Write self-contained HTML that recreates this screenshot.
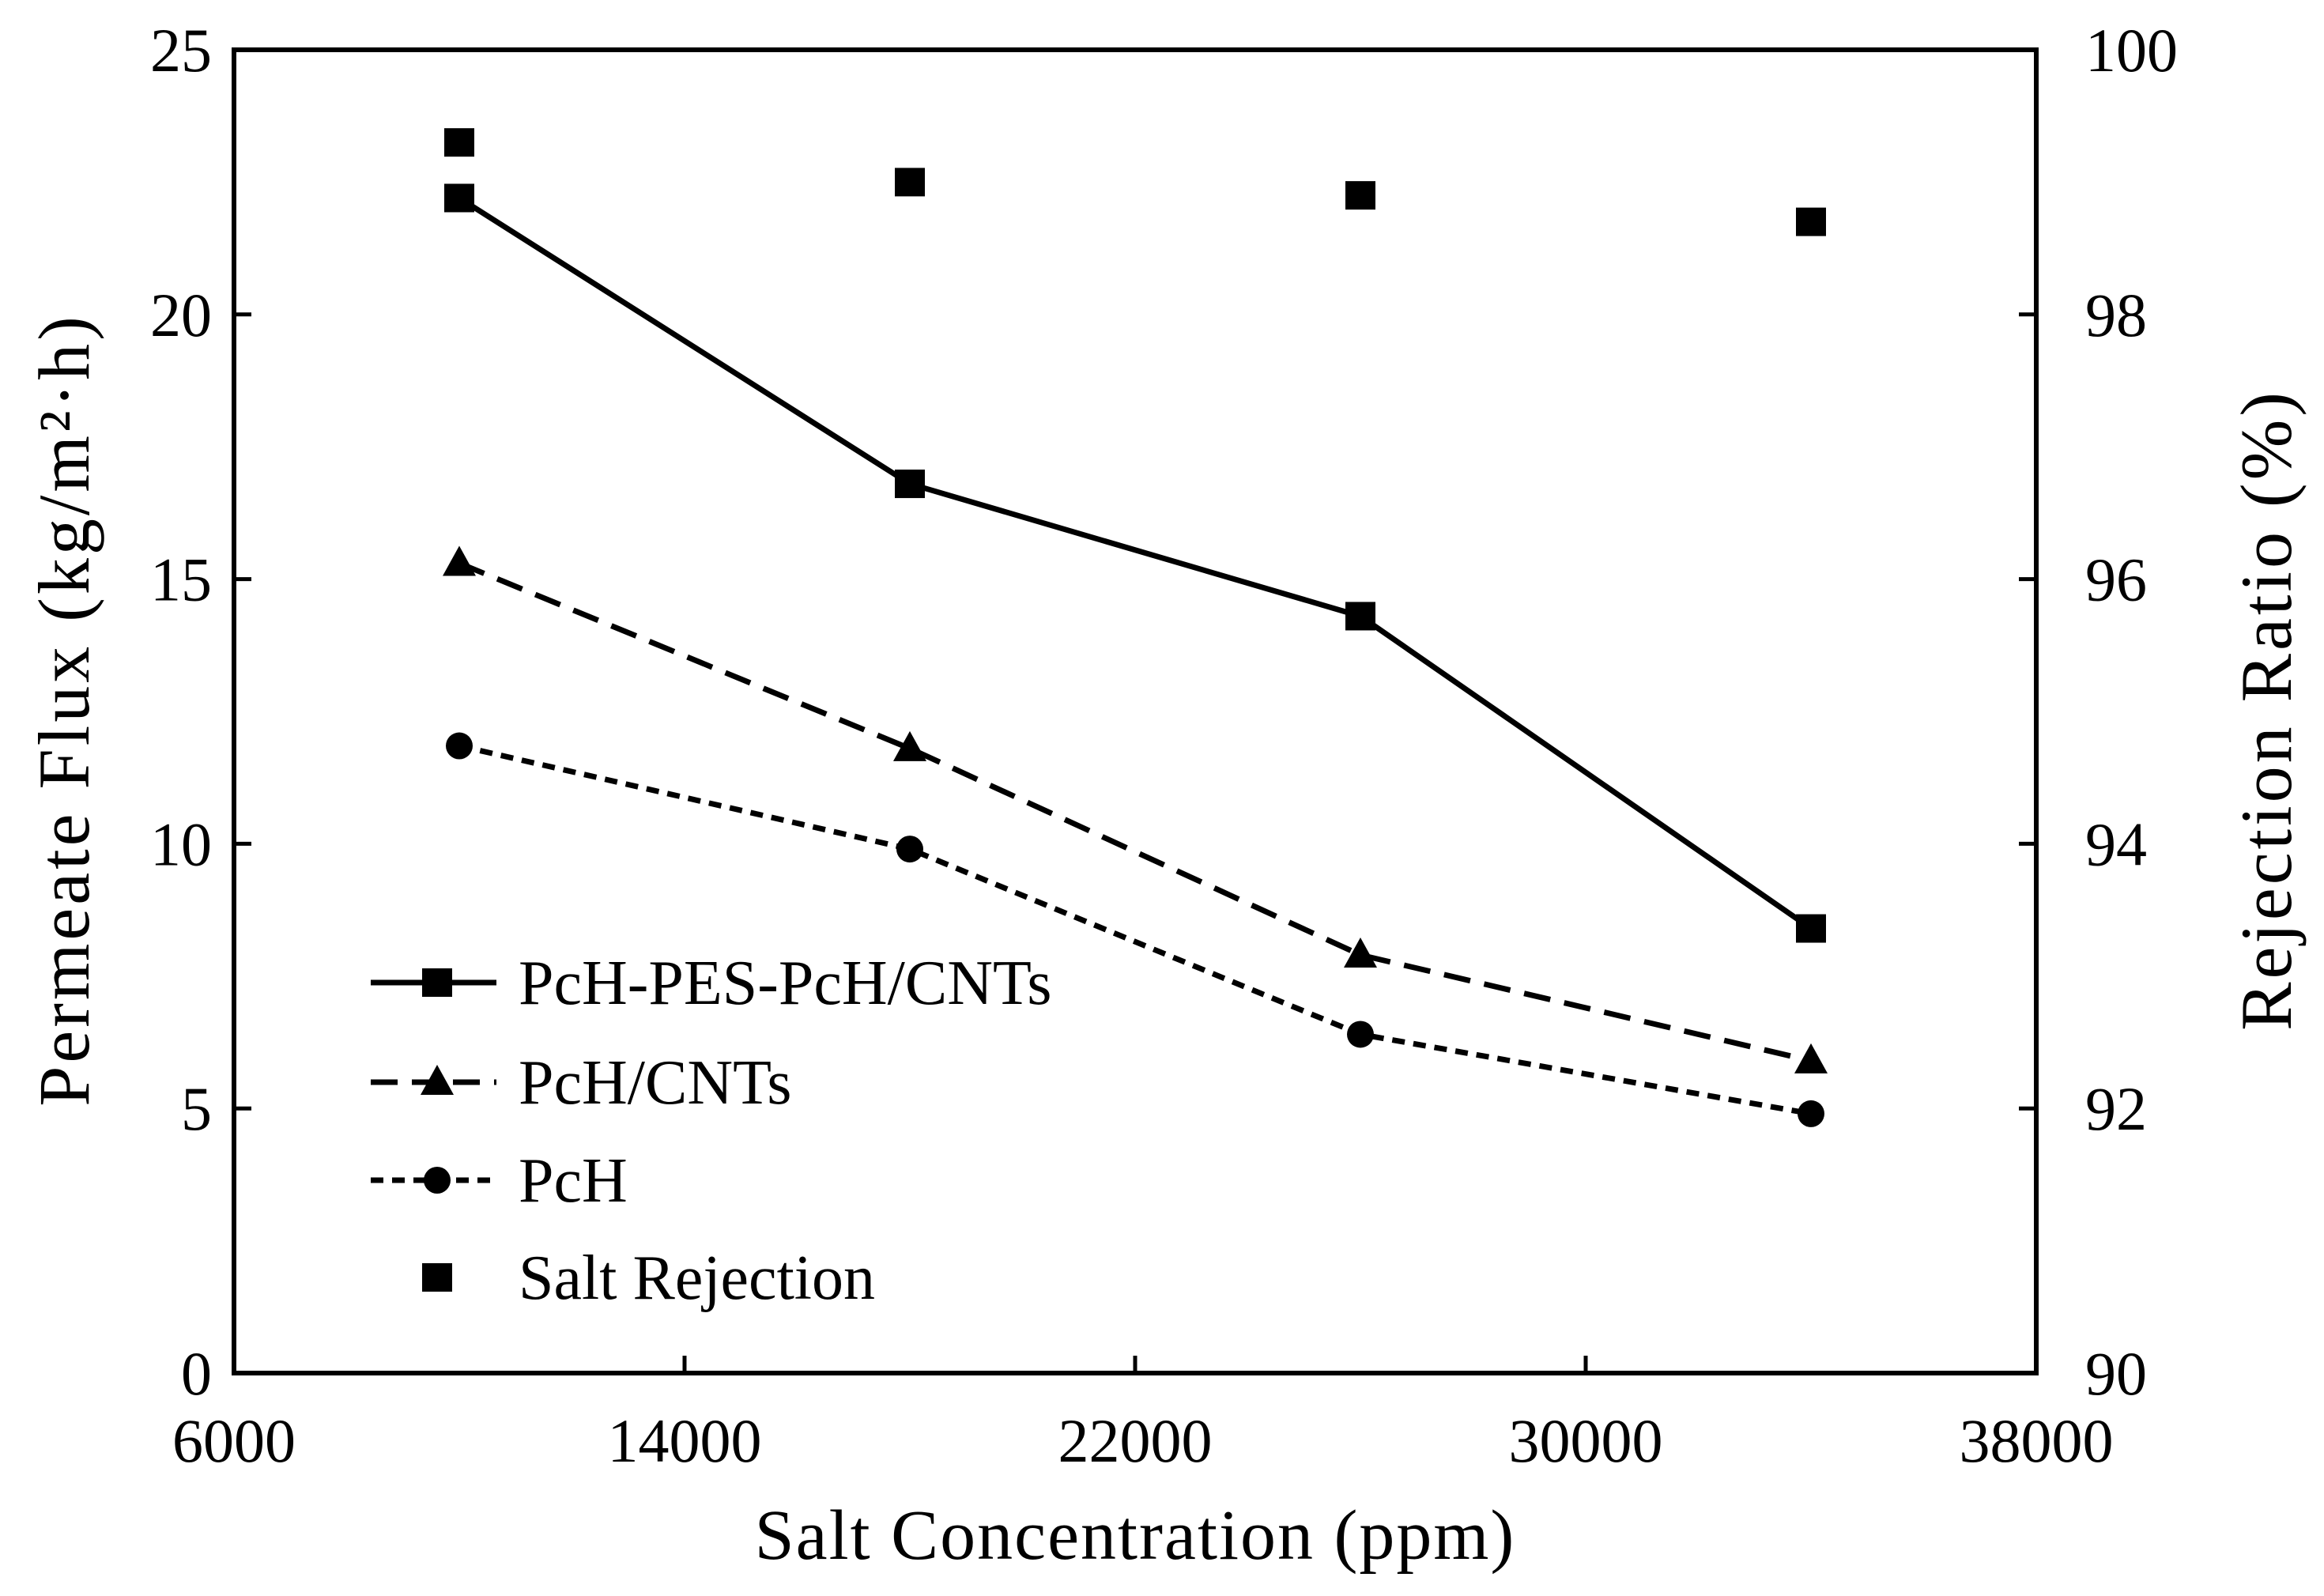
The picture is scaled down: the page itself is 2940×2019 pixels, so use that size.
<!DOCTYPE html>
<html><head><meta charset="utf-8"><style>
html,body{margin:0;padding:0;background:#fff;}
svg{display:block;font-family:"Liberation Serif",serif;}
</style></head><body>
<svg id="chart" width="2940" height="2019" viewBox="0 0 2940 2019">
</svg>
<script>
const xValues=[10000,18000,26000,34000];
const fluxPES=[22.2,16.8,14.3,8.4];
const fluxCNT=[15.3,11.8,7.9,5.9];
const fluxPcH=[11.85,9.9,6.4,4.9];
const rejection=[99.3,99.0,98.9,98.7];
const xTicks=[6000,14000,22000,30000,38000];
const yTicks=[0,5,10,15,20,25];
const y2Ticks=[90,92,94,96,98,100];

const L=296,R=2576,T=63,B=1737;
const NS="http://www.w3.org/2000/svg";
const svg=document.getElementById('chart');
const sx=v=>L+(v-6000)/32000*(R-L);
const sy=v=>B-v/25*(B-T);
const sy2=v=>B-(v-90)/10*(B-T);
function mk(tag,attrs,parent){const e=document.createElementNS(NS,tag);for(const k in attrs)e.setAttribute(k,attrs[k]);(parent||svg).appendChild(e);return e;}
function txt(s,attrs){const e=mk('text',attrs);e.textContent=s;return e;}

let frame=mk('rect',{x:L,y:T,width:R-L,height:B-T,fill:'none',stroke:'#000','stroke-width':6});



xTicks.forEach(v=>{
 let t=mk('line',{x1:sx(v),x2:sx(v),y1:B,y2:B-22,stroke:'#000','stroke-width':5});
 
 
 let l=txt(String(v),{x:sx(v),y:1849,'font-size':78,'text-anchor':'middle'});
 
 
});
yTicks.forEach(v=>{
 let t=mk('line',{x1:L,x2:L+22,y1:sy(v),y2:sy(v),stroke:'#000','stroke-width':5});
 
 
 let l=txt(String(v),{x:268,y:sy(v)+27,'font-size':78,'text-anchor':'end'});
 
 
});
y2Ticks.forEach(v=>{
 let t=mk('line',{x1:R,x2:R-22,y1:sy2(v),y2:sy2(v),stroke:'#000','stroke-width':5});
 
 
 let l=txt(String(v),{x:2638,y:sy2(v)+27,'font-size':78,'text-anchor':'start'});
 
 
});

let xt=txt('Salt Concentration (ppm)',{x:(L+R)/2,y:1972,'font-size':90,'text-anchor':'middle','letter-spacing':2});


let yt=txt('Permeate Flux (kg/m²·h)',{x:0,y:0,'font-size':92,'text-anchor':'middle','letter-spacing':4,transform:'translate(112,898) rotate(-90)'});


let y2t=txt('Rejection Ratio (%)',{x:0,y:0,'font-size':92,'text-anchor':'middle','letter-spacing':4,transform:'translate(2898,898) rotate(-90)'});



function square(cx,cy,name){let e=mk('rect',{x:cx-19,y:cy-18,width:38,height:36,fill:'#000'});}
function tri(cx,cy,name){let e=mk('polygon',{points:`${cx},${cy-22} ${cx+21},${cy+16} ${cx-21},${cy+16}`,fill:'#000'});}
function circ(cx,cy,name){let e=mk('circle',{cx:cx,cy:cy,r:17,fill:'#000'});}

function series(vals,dash,marker,name){
 let pts=vals.map((v,i)=>sx(xValues[i])+','+sy(v)).join(' ');
 let p=mk('polyline',{points:pts,fill:'none',stroke:'#000','stroke-width':7,'stroke-dasharray':dash});
 
 
 vals.forEach((v,i)=>marker(sx(xValues[i]),sy(v),name+'-point'));
}
series(fluxPES,'none',square,'pes-cnts');
series(fluxCNT,'34 18',tri,'pch-cnts');
series(fluxPcH,'16 11',circ,'pch');
rejection.forEach((v,i)=>square(sx(xValues[i]),sy2(v),'salt-rejection-point'));

const leg=[['PcH-PES-PcH/CNTs','none',square,1243],['PcH/CNTs','34 18',tri,1369],['PcH','16 11',circ,1493],['Salt Rejection',null,square,1616]];
leg.forEach(([lab,dash,m,y])=>{
 if(dash!==null){let l=mk('line',{x1:469,x2:628,y1:y,y2:y,stroke:'#000','stroke-width':7,'stroke-dasharray':dash});
 
 }
 m(553,y,'legend-marker');
 let t=txt(lab,{x:656,y:y+27,'font-size':80});
 
 
});
</script>
</body></html>
